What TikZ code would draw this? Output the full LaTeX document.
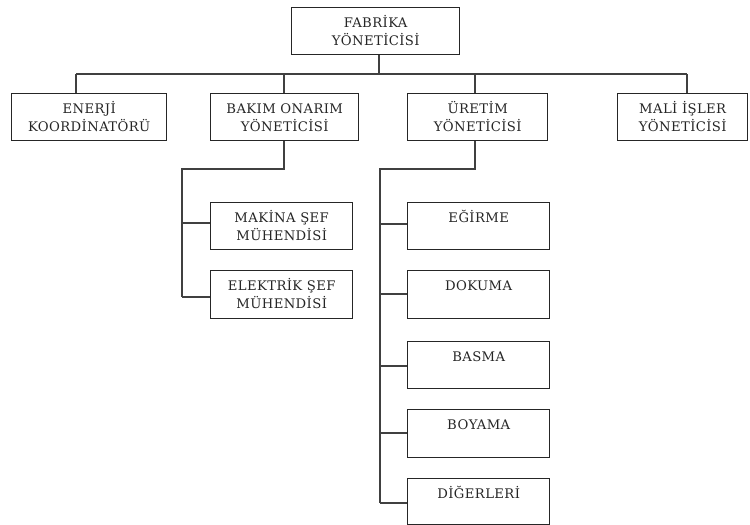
\documentclass[tikz,border=0pt]{standalone}
\usepackage{fontspec}
\newfontfamily\orgfont[LetterSpace=3]{DejaVu Serif}
\begin{document}
\begin{tikzpicture}[x=1pt,y=-1pt,
  box/.style={draw=black!85, line width=1.4pt, rectangle, inner sep=0pt, anchor=north west},
  lbl/.style={anchor=base, inner sep=0pt, font=\orgfont\fontsize{13.2}{15}\selectfont, text=black!85},
  wire/.style={draw=black!75, line width=1.1pt}]
\useasboundingbox[fill=white] (0,0) rectangle (750,525);
% boxes
\node[box, minimum width=168pt, minimum height=47pt] (fab) at (291,7) {};
\node[box, minimum width=155pt, minimum height=47pt] (ene) at (11,93) {};
\node[box, minimum width=148pt, minimum height=47pt] (bak) at (210,93) {};
\node[box, minimum width=140pt, minimum height=47pt] (ure) at (407,93) {};
\node[box, minimum width=130pt, minimum height=47pt] (mal) at (617,93) {};
\node[box, minimum width=142pt, minimum height=47pt] (mak) at (210,202) {};
\node[box, minimum width=142pt, minimum height=48pt] (ele) at (210,270) {};
\node[box, minimum width=142pt, minimum height=47pt] (egi) at (407,202) {};
\node[box, minimum width=142pt, minimum height=48pt] (dok) at (407,270) {};
\node[box, minimum width=142pt, minimum height=47pt] (bas) at (407,341) {};
\node[box, minimum width=142pt, minimum height=48pt] (boy) at (407,409) {};
\node[box, minimum width=142pt, minimum height=46pt] (dig) at (407,478) {};
% labels
\node[lbl] (fab-a) at ([yshift=-20.5pt]fab.north) {FABRİKA};
\node[lbl] (fab-b) at ([yshift=-38pt]fab.north) {YÖNETİCİSİ};
\node[lbl] (ene-a) at ([yshift=-20.5pt]ene.north) {ENERJİ};
\node[lbl] (ene-b) at ([yshift=-38pt]ene.north) {KOORDİNATÖRÜ};
\node[lbl] (bak-a) at ([yshift=-20.5pt]bak.north) {BAKIM ONARIM};
\node[lbl] (bak-b) at ([yshift=-38pt]bak.north) {YÖNETİCİSİ};
\node[lbl] (ure-a) at ([yshift=-20.5pt]ure.north) {ÜRETİM};
\node[lbl] (ure-b) at ([yshift=-38pt]ure.north) {YÖNETİCİSİ};
\node[lbl] (mal-a) at ([yshift=-20.5pt]mal.north) {MALİ İŞLER};
\node[lbl] (mal-b) at ([yshift=-38pt]mal.north) {YÖNETİCİSİ};
\node[lbl] (mak-a) at ([yshift=-20.5pt]mak.north) {MAKİNA ŞEF};
\node[lbl] (mak-b) at ([yshift=-38pt]mak.north) {MÜHENDİSİ};
\node[lbl] (ele-a) at ([yshift=-20.5pt]ele.north) {ELEKTRİK ŞEF};
\node[lbl] (ele-b) at ([yshift=-38pt]ele.north) {MÜHENDİSİ};
\node[lbl] (egi-a) at ([yshift=-20.5pt]egi.north) {EĞİRME};
\node[lbl] (dok-a) at ([yshift=-20.5pt]dok.north) {DOKUMA};
\node[lbl] (bas-a) at ([yshift=-20.5pt]bas.north) {BASMA};
\node[lbl] (boy-a) at ([yshift=-20.5pt]boy.north) {BOYAMA};
\node[lbl] (dig-a) at ([yshift=-20.5pt]dig.north) {DİĞERLERİ};
% connectors
\coordinate (busL) at (76,74);
\coordinate (busR) at (687,74);
\coordinate (busT) at (379,74);
\coordinate (bakD) at (284,169);
\coordinate (bakS) at (182,169);
\coordinate (ureD) at (475,169);
\coordinate (ureS) at (380,169);
\draw[wire] (busT |- fab.south) -- (busT);
\draw[wire] (busL) -- (busR);
\draw[wire] (busL) -- (busL |- ene.north);
\draw[wire] (bakD |- busL) -- (bakD |- bak.north);
\draw[wire] (ureD |- busL) -- (ureD |- ure.north);
\draw[wire] (busR) -- (busR |- mal.north);
\draw[wire] (bakD |- bak.south) -- (bakD) -- (bakS) -- (bakS |- 0,297);
\draw[wire] (bakS |- 0,223) -- (mak.west |- 0,223);
\draw[wire] (bakS |- 0,297) -- (ele.west |- 0,297);
\draw[wire] (ureD |- ure.south) -- (ureD) -- (ureS) -- (ureS |- 0,503);
\draw[wire] (ureS |- 0,224) -- (egi.west |- 0,224);
\draw[wire] (ureS |- 0,294) -- (dok.west |- 0,294);
\draw[wire] (ureS |- 0,366) -- (bas.west |- 0,366);
\draw[wire] (ureS |- 0,433) -- (boy.west |- 0,433);
\draw[wire] (ureS |- 0,503) -- (dig.west |- 0,503);
\end{tikzpicture}
\end{document}
